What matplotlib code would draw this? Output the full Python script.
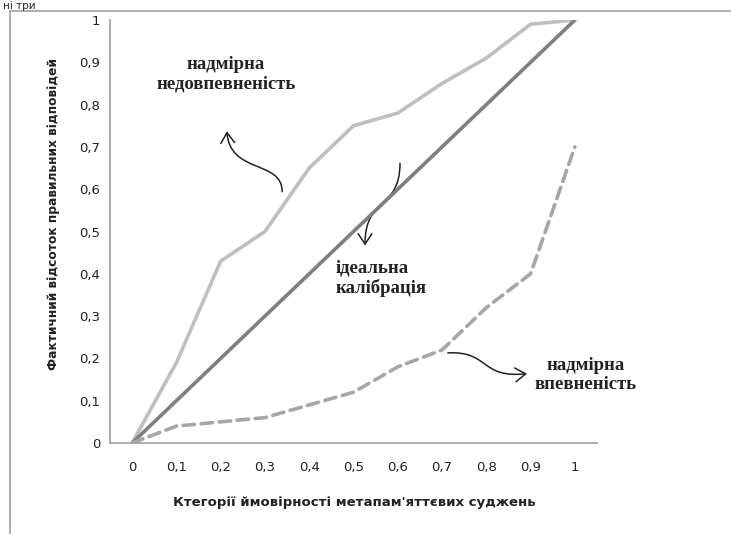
import numpy as np
import matplotlib.pyplot as plt
from matplotlib.path import Path
from matplotlib.patches import FancyArrowPatch
from matplotlib.lines import Line2D

# Дані графіка
kategorii = np.array([0, 0.1, 0.2, 0.3, 0.4, 0.5, 0.6, 0.7, 0.8, 0.9, 1.0])
pidpysy = ["0", "0,1", "0,2", "0,3", "0,4", "0,5", "0,6", "0,7", "0,8", "0,9", "1"]
nedovpevnenist = np.array([0, 0.19, 0.43, 0.50, 0.65, 0.75, 0.78, 0.85, 0.91, 0.99, 1.0])
idealna = np.array([0, 0.1, 0.2, 0.3, 0.4, 0.5, 0.6, 0.7, 0.8, 0.9, 1.0])
vpevnenist = np.array([0, 0.04, 0.05, 0.06, 0.09, 0.12, 0.18, 0.22, 0.32, 0.40, 0.70])
y_pidpysy = ["0", "0,1", "0,2", "0,3", "0,4", "0,5", "0,6", "0,7", "0,8", "0,9", "1"]

W, H = 731, 534
fig = plt.figure(figsize=(W / 100, H / 100), dpi=100)
ax = fig.add_axes([110 / W, 1 - 443 / H, 487 / W, 423 / H])

# Лінії
ax.plot(kategorii, nedovpevnenist, color="#BFBFBF", lw=2.6, solid_capstyle="round")
ax.plot(kategorii, idealna, color="#7F7F7F", lw=2.6, solid_capstyle="round")
ax.plot(kategorii, vpevnenist, color="#A6A6A6", lw=2.6, dashes=(3.2, 1.8),
        dash_capstyle="round")

ax.set_xlim(-0.05, 1.05)
ax.set_ylim(0, 1)
ax.set_xticks(kategorii)
ax.set_xticklabels(pidpysy)
ax.set_yticks(np.linspace(0, 1, 11))
ax.set_yticklabels(y_pidpysy)
ax.tick_params(axis="both", length=0, labelsize=9.5, colors="#222222")
ax.tick_params(axis="x", pad=13)
ax.tick_params(axis="y", pad=7)
for s in ["top", "right"]:
    ax.spines[s].set_visible(False)
for s in ["left", "bottom"]:
    ax.spines[s].set_color("#A0A0A0")
    ax.spines[s].set_linewidth(1.2)

ax.set_ylabel("Фактичний відсоток правильних відповідей", fontsize=8.8,
              fontweight="bold", color="#222222")
ax.yaxis.set_label_coords(-0.103, 0.541)
ax.set_xlabel("Ктегорії ймовірності метапам'яттєвих суджень", fontsize=9.5,
              fontweight="bold", color="#222222")
ax.xaxis.set_label_coords(0.501, -0.125)

# Підписи
serif = dict(family="Liberation Serif", fontweight="bold", fontsize=13.5,
             color="#222222", linespacing=1.15)
ax.text(0.212, 0.872, "надмірна\nнедовпевненість", ha="center", va="center", **serif)
ax.text(0.460, 0.390, "ідеальна\nкалібрація", ha="left", va="center", **serif)
ax.text(1.025, 0.161, "надмірна\nвпевненість", ha="center", va="center", **serif)

# Стрілки
strilky = [
    [(0.339, 0.594), (0.339, 0.670), (0.221, 0.635), (0.214, 0.737)],
    [(0.605, 0.661), (0.605, 0.550), (0.526, 0.585), (0.526, 0.467)],
    [(0.713, 0.213), (0.808, 0.218), (0.785, 0.152), (0.892, 0.164)],
]
for pts in strilky:
    p = Path(pts, [Path.MOVETO, Path.CURVE4, Path.CURVE4, Path.CURVE4])
    a = FancyArrowPatch(path=p, arrowstyle="->,head_length=0.75,head_width=0.5",
                        mutation_scale=10, color="#222222", lw=1.1,
                        transform=ax.transData)
    ax.add_patch(a)

# Рамка та заголовок
fig.add_artist(Line2D([10 / W, 10 / W], [0, 1 - 11 / H], transform=fig.transFigure,
                      color="#A8A8A8", lw=1.3))
fig.add_artist(Line2D([10 / W, 1], [1 - 11 / H, 1 - 11 / H], transform=fig.transFigure,
                      color="#A8A8A8", lw=1.3))
fig.text(3 / W, 1 - 1 / H, "ні три", fontsize=7.5, color="#222222",
         ha="left", va="top")

fig.savefig("out.png", dpi=100)
